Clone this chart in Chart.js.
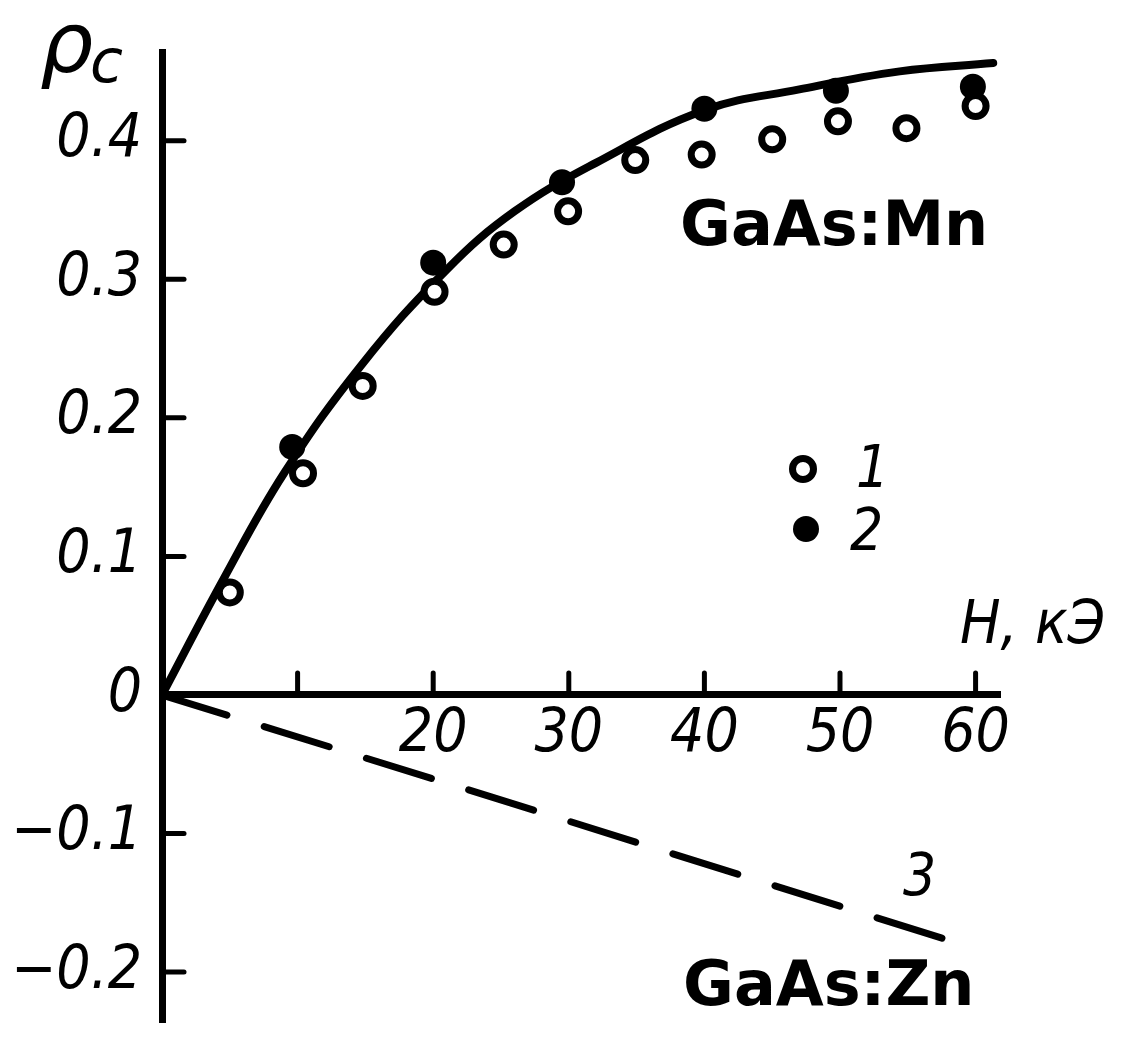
<!DOCTYPE html>
<html><head><meta charset="utf-8">
<script src="https://cdn.jsdelivr.net/npm/chart.js@4"></script>
<style>html,body{margin:0;padding:0;background:#fff;overflow:hidden}canvas{display:block}</style>
</head><body>
<canvas id="c" width="1131" height="1044"></canvas>
<script>
// Series 1 (open circles)
const openH   = [5.0, 10.4, 14.8, 20.1, 25.2, 29.95, 34.9, 39.8, 45.0, 49.85, 54.9, 60.0];
const openRho = [0.074, 0.160, 0.223, 0.291, 0.325, 0.349, 0.386, 0.390, 0.401, 0.414, 0.409, 0.425];
// Series 2 (filled circles)
const filledH   = [9.6, 20.0, 29.5, 40.0, 49.7, 59.8];
const filledRho = [0.179, 0.312, 0.370, 0.423, 0.436, 0.439];
// Solid curve through GaAs:Mn data
const curveH   = [0, 4.5, 9.0, 14.7, 21.0, 26.0, 32.0, 40.0, 47.0, 54.4, 61.3];
const curveRho = [0, 0.083, 0.160, 0.238, 0.307, 0.349, 0.384, 0.422, 0.437, 0.450, 0.456];
// Dashed curve 3 (GaAs:Zn)
const dashH   = [0, 26.4, 58.0];
const dashRho = [0, -0.080, -0.177];
// Axes
const xTicks = [10, 20, 30, 40, 50, 60];
const xTickLabels = ['', '20', '30', '40', '50', '60'];
const yTicks = [0.4, 0.3, 0.2, 0.1, 0, -0.1, -0.2];
const yTickLabels = ['0.4', '0.3', '0.2', '0.1', '0', '\u22120.1', '\u22120.2'];
const xTitle = 'H, кЭ';
const yTitleMain = 'ρ', yTitleSub = 'c';
const legendLabels = ['1', '2'];
const curve3Label = '3';
const sampleLabels = ['GaAs:Mn', 'GaAs:Zn'];

const pts = (xs, ys) => xs.map((x, i) => ({x, y: ys[i]}));
const FAM = "'DejaVu Sans Condensed', 'DejaVu Sans', sans-serif";
const tickFont = {family: FAM, size: 60, style: 'italic', lineHeight: 1.0};

const decor = {
  id: 'decor',
  afterDraw(chart) {
    const {ctx, scales: {x, y}} = chart;
    const x0 = x.getPixelForValue(0), y0 = y.getPixelForValue(0);
    ctx.save();
    ctx.strokeStyle = '#000'; ctx.fillStyle = '#000';
    ctx.lineWidth = 5; ctx.lineCap = 'round';
    xTicks.forEach(v => {
      const px = x.getPixelForValue(v);
      ctx.beginPath(); ctx.moveTo(px, y0); ctx.lineTo(px, y0 - 22); ctx.stroke();
    });
    yTicks.forEach(v => {
      if (v === 0) return;
      const py = y.getPixelForValue(v);
      ctx.beginPath(); ctx.moveTo(x0, py); ctx.lineTo(x0 + 22, py); ctx.stroke();
    });
    // legend
    ctx.lineWidth = 7;
    ctx.beginPath(); ctx.arc(803, 469, 10.5, 0, Math.PI * 2);
    ctx.fillStyle = '#fff'; ctx.fill(); ctx.stroke();
    ctx.fillStyle = '#000';
    ctx.beginPath(); ctx.arc(806, 529, 13, 0, Math.PI * 2); ctx.fill();
    ctx.textBaseline = 'alphabetic'; ctx.textAlign = 'left';
    ctx.font = "italic 58px " + FAM;
    ctx.fillText(legendLabels[0], 856, 487);
    ctx.fillText(legendLabels[1], 850, 550);
    ctx.fillText(curve3Label, 903, 895);
    ctx.font = "italic 60px " + FAM;
    ctx.fillText(xTitle, 960, 643);
    ctx.font = "italic 84px 'DejaVu Sans', sans-serif";
    ctx.fillText(yTitleMain, 40, 72);
    ctx.font = "italic 60px 'DejaVu Sans', sans-serif";
    ctx.fillText(yTitleSub, 90, 82);
    ctx.font = "bold 62px 'DejaVu Sans', sans-serif";
    ctx.fillText(sampleLabels[0], 680, 245);
    ctx.fillText(sampleLabels[1], 683, 1005);
    ctx.restore();
  }
};

new Chart(document.getElementById('c').getContext('2d'), {
  type: 'scatter',
  data: {
    datasets: [
      {label: '1', data: pts(openH, openRho), pointRadius: 10.5, pointBorderWidth: 7,
       pointBackgroundColor: '#fff', pointBorderColor: '#000', showLine: false},
      {label: '2', data: pts(filledH, filledRho), pointRadius: 13, pointBorderWidth: 0,
       pointBackgroundColor: '#000', pointBorderColor: '#000', showLine: false},
      {label: 'fit', data: pts(curveH, curveRho), showLine: true, pointRadius: 0,
       borderColor: '#000', borderWidth: 8, tension: 0.4, borderCapStyle: 'round', borderJoinStyle: 'round'},
      {label: '3', data: pts(dashH, dashRho), showLine: true, pointRadius: 0,
       borderColor: '#000', borderWidth: 7, borderDash: [68, 39], borderCapStyle: 'round'}
    ]
  },
  options: {
    responsive: false, animation: false, devicePixelRatio: 1,
    layout: {padding: {top: 52, right: 131, bottom: 22, left: 0}},
    plugins: {legend: {display: false}, tooltip: {enabled: false}},
    scales: {
      x: {
        type: 'linear', min: 0, max: 61.8, position: {y: 0},
        grid: {display: true, drawOnChartArea: false, drawTicks: false},
        border: {display: true, color: '#000', width: 7},
        afterBuildTicks: s => { s.ticks = xTicks.map(v => ({value: v})); },
        afterFit: s => { s.height = 0; s.paddingLeft = 0; s.paddingRight = 0; },
        ticks: {color: '#000', font: tickFont, padding: 10, maxRotation: 0, autoSkip: false,
          callback: v => xTickLabels[xTicks.indexOf(v)]}
      },
      y: {
        type: 'linear', min: -0.236, max: 0.464, position: 'left',
        grid: {display: true, drawOnChartArea: false, drawTicks: false},
        border: {display: true, color: '#000', width: 7},
        afterBuildTicks: s => { s.ticks = yTicks.map(v => ({value: v})); },
        afterFit: s => { s.width = 162; s.paddingTop = 0; s.paddingBottom = 0; },
        ticks: {color: '#000', font: tickFont, padding: 20, autoSkip: false,
          callback: v => yTickLabels[yTicks.indexOf(v)]}
      }
    }
  },
  plugins: [decor]
});
</script>
</body></html>
